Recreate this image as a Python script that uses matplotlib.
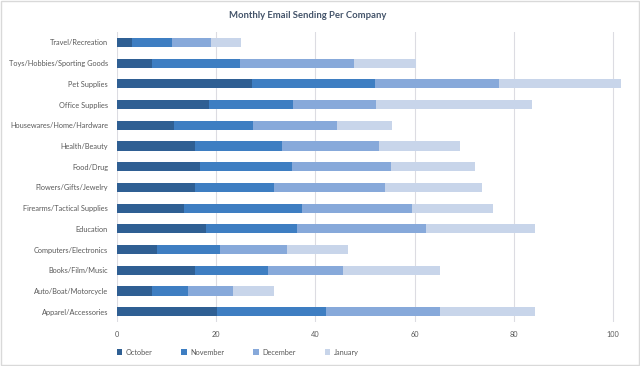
import matplotlib
matplotlib.use("Agg")
import matplotlib.pyplot as plt
import numpy as np

plt.rcParams['font.family'] = ['Lato', 'DejaVu Sans']

categories = ["Travel/Recreation", "Toys/Hobbies/Sporting Goods", "Pet Supplies",
              "Office Supplies", "Housewares/Home/Hardware", "Health/Beauty",
              "Food/Drug", "Flowers/Gifts/Jewelry", "Firearms/Tactical Supplies",
              "Education", "Computers/Electronics", "Books/Film/Music",
              "Auto/Boat/Motorcycle", "Apparel/Accessories"]
october = [3.0, 7.1, 27.3, 18.5, 11.4, 15.7, 16.7, 15.7, 13.5, 17.9, 8.0, 15.7, 7.0, 20.1]
november = [8.0, 17.6, 24.8, 16.9, 16.1, 17.6, 18.6, 16.0, 23.8, 18.4, 12.7, 14.8, 7.3, 22.1]
december = [8.0, 23.1, 24.9, 16.9, 16.8, 19.5, 19.9, 22.3, 22.1, 26.1, 13.6, 15.1, 9.0, 22.9]
january = [5.9, 12.5, 24.7, 31.3, 11.1, 16.3, 16.9, 19.6, 16.4, 21.9, 12.3, 19.6, 8.4, 19.2]

series = [("October", october, "#2F5F93"),
          ("November", november, "#3E7EC2"),
          ("December", december, "#87A9DA"),
          ("January", january, "#C8D5EA")]

fig = plt.figure(figsize=(6.4, 3.66), dpi=100)
ax = fig.add_axes([0.183, 0.12, 0.794, 0.7925])

y = np.arange(len(categories))
left = np.zeros(len(categories))
for name, vals, col in series:
    vals = np.array(vals)
    ax.barh(y, vals, left=left, height=0.44, color=col, label=name, zorder=3)
    left += vals

ax.set_xlim(0, 102.5)
ax.set_ylim(13.5, -0.5)
ax.set_xticks([0, 20, 40, 60, 80, 100])
ax.set_yticks(y)
ax.set_yticklabels(categories)
ax.tick_params(axis='both', length=0, labelsize=5.35, colors="#595959")
ax.tick_params(axis='y', pad=6.5)
ax.tick_params(axis='x', pad=6.5)
ax.grid(axis='x', color="#DCDCE2", linewidth=0.8, zorder=0)
for s in ax.spines.values():
    s.set_visible(False)

fig.text(0.481, 0.957, "Monthly Email Sending Per Company", ha='center', va='center',
         fontsize=6.8, fontweight='bold', color="#44546A")

leg = fig.legend(loc='lower left', bbox_to_anchor=(0.172, 0.01), ncol=4, frameon=False,
                 fontsize=5.35, handlelength=0.7, handleheight=0.7, columnspacing=3.9,
                 handletextpad=0.5, labelcolor="#595959")

fig.patches.append(plt.Rectangle((0.001, 0.003), 0.998, 0.994, transform=fig.transFigure,
                                 fill=False, edgecolor="#D9D9D9", linewidth=1))

fig.savefig("out.png", dpi=100)
